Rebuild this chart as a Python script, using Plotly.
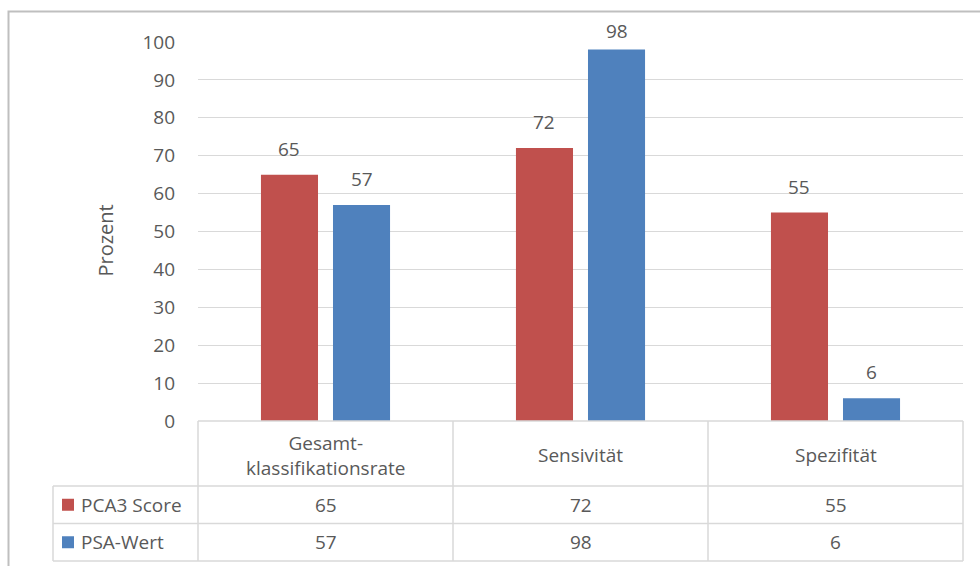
import plotly.graph_objects as go

# Data
categories = ["Gesamt-<br>klassifikationsrate", "Sensivität", "Spezifität"]
series_names = ["PCA3 Score", "PSA-Wert"]
pca3_values = [65, 72, 55]
psa_values = [57, 98, 6]
y_ticks = [0, 10, 20, 30, 40, 50, 60, 70, 80, 90, 100]

colors = ["#C0504D", "#4F81BD"]
text_color = "#595959"
grid_color = "#D9D9D9"
font_family = "Open Sans"
fs = 19

W, H = 980, 566
L, R, T, B = 198, 963, 42, 421  # plot area in pixels
BARGAP, GROUPGAP = 0.435, 0.208
LABEL_SHIFT = 11        # gap between bar top and value label
LABEL_MIN_CENTER = 31   # value labels are kept below this pixel row
LABEL_HALF = 14.5       # distance from label box bottom to text centre


def px_x(x):
    return (x - L) / (R - L)


def px_y(y):
    return (B - y) / (B - T)


xpos = [0, 1, 2]
all_series = [pca3_values, psa_values]

fig = go.Figure()
for name, vals, col in zip(series_names, all_series, colors):
    fig.add_trace(go.Bar(
        x=xpos, y=vals, name=name, marker=dict(color=col, line=dict(width=0)),
    ))

fig.update_layout(
    width=W, height=H,
    margin=dict(l=L, r=W - R, t=T, b=H - B, autoexpand=False),
    paper_bgcolor="white", plot_bgcolor="white",
    barmode="group", bargap=BARGAP, bargroupgap=GROUPGAP,
    showlegend=False,
    font=dict(family=font_family, color=text_color, size=fs),
    xaxis=dict(range=[-0.5, 2.5], showticklabels=False, showgrid=False,
               zeroline=False, showline=False, fixedrange=True),
    yaxis=dict(range=[0, 100], tickvals=y_ticks, showgrid=True,
               gridcolor=grid_color, gridwidth=1, zeroline=False,
               showline=False, ticks="", ticklabelstandoff=22,
               tickfont=dict(family=font_family, size=fs, color=text_color)),
)

shapes = []
line_style = dict(color="#D9D9D9", width=1.5)


def hline(x0, x1, y):
    shapes.append(dict(type="line", xref="paper", yref="paper",
                       x0=px_x(x0), x1=px_x(x1), y0=px_y(y), y1=px_y(y),
                       line=line_style))


def vline(x, y0, y1):
    shapes.append(dict(type="line", xref="paper", yref="paper",
                       x0=px_x(x), x1=px_x(x), y0=px_y(y0), y1=px_y(y1),
                       line=line_style))


# Data table grid
row_top, row_mid, row_bot = 486, 523.5, 561
col_edges = [L, 453, 708, R]
hline(L, R, B)
hline(53, R, row_top)
hline(53, R, row_mid)
hline(53, R, row_bot)
vline(53, row_top, row_bot)
for cx in col_edges:
    vline(cx, B, row_bot)

# Chart border
shapes.append(dict(type="rect", xref="paper", yref="paper",
                   x0=px_x(8.5), x1=px_x(990), y0=px_y(11.5), y1=px_y(580),
                   line=dict(color="#BFBFBF", width=2), fillcolor="rgba(0,0,0,0)"))

annotations = []
# Axis title
annotations.append(dict(text="Prozent", xref="paper", yref="paper",
                        x=px_x(89), y=px_y(241), textangle=-90, showarrow=False,
                        font=dict(size=fs + 1, color=text_color, family=font_family)))

# Value labels above bars (grouped bar centre offsets); labels that would
# run past the top of the chart are nudged down towards the bar
slot = (1 - BARGAP) / len(all_series)
px_per_unit = (B - T) / 100
for k, vals in enumerate(all_series):
    offset = (k - (len(all_series) - 1) / 2) * slot
    for i, v in enumerate(vals):
        bar_top_px = B - v * px_per_unit
        shift = min(LABEL_SHIFT, bar_top_px - LABEL_HALF - LABEL_MIN_CENTER)
        annotations.append(dict(text=str(v), xref="x", yref="y", x=xpos[i] + offset,
                                y=v, yanchor="bottom", yshift=shift, showarrow=False,
                                font=dict(size=fs, color=text_color, family=font_family)))

# Category header cells
for i, cat in enumerate(categories):
    annotations.append(dict(text=cat, xref="x", yref="paper", x=xpos[i],
                            y=px_y(455), showarrow=False, yanchor="middle",
                            font=dict(size=fs, color=text_color, family=font_family)))

# Value rows and legend keys
row_centers = [(row_top + row_mid) / 2, (row_mid + row_bot) / 2]
for name, vals, col, yc in zip(series_names, all_series, colors, row_centers):
    shapes.append(dict(type="rect", xref="paper", yref="paper",
                       x0=px_x(62), x1=px_x(74), y0=px_y(yc - 6), y1=px_y(yc + 6),
                       line=dict(width=0), fillcolor=col))
    annotations.append(dict(text=name, xref="paper", yref="paper", x=px_x(79),
                            y=px_y(yc), xanchor="left", yanchor="middle", showarrow=False,
                            font=dict(size=fs, color=text_color, family=font_family)))
    for i, v in enumerate(vals):
        annotations.append(dict(text=str(v), xref="x", yref="paper", x=xpos[i],
                                y=px_y(yc), yanchor="middle", showarrow=False,
                                font=dict(size=fs, color=text_color, family=font_family)))

fig.update_layout(shapes=shapes, annotations=annotations)
fig.write_html("out.html")
